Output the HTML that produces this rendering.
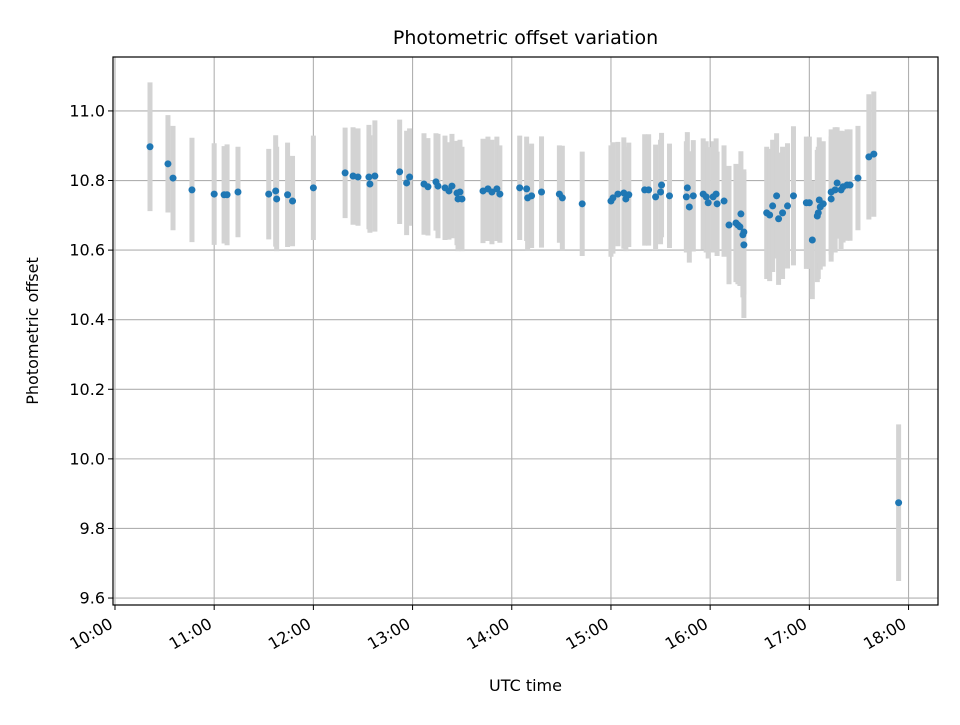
<!DOCTYPE html>
<html><head><meta charset="utf-8"><style>
body{margin:0;background:#fff;}
svg text{font-family:"DejaVu Sans","Liberation Sans",sans-serif;fill:#000;}
</style></head><body>
<svg id="chart" width="960" height="720" viewBox="0 0 960 720" xmlns="http://www.w3.org/2000/svg">
<rect width="960" height="720" fill="#fff"/>
<g id="grid"></g><g id="errs"></g><g id="pts"></g><g id="axes"></g>
</svg>
<script>
const times=[10.353,10.534,10.585,10.776,11.0,11.10,11.13,11.24,11.55,11.62,11.63,11.74,11.79,12.0,12.32,12.40,12.45,12.56,12.57,12.62,12.87,12.94,12.97,13.115,13.155,13.236,13.256,13.327,13.367,13.397,13.448,13.478,13.458,13.498,13.71,13.76,13.80,13.85,13.88,14.08,14.15,14.16,14.20,14.30,14.48,14.51,14.71,15.0,15.02,15.07,15.13,15.15,15.18,15.34,15.38,15.45,15.50,15.51,15.59,15.77,15.76,15.79,15.83,15.93,15.96,15.98,16.03,16.06,16.07,16.14,16.19,16.26,16.28,16.31,16.30,16.33,16.34,16.34,16.57,16.60,16.63,16.67,16.69,16.73,16.78,16.84,16.97,17.00,17.03,17.08,17.09,17.11,17.10,17.14,17.22,17.22,17.26,17.28,17.32,17.34,17.38,17.41,17.49,17.60,17.65,17.90];
const offsets=[10.897,10.848,10.807,10.773,10.761,10.759,10.759,10.767,10.761,10.770,10.747,10.759,10.741,10.779,10.822,10.813,10.810,10.810,10.790,10.813,10.825,10.793,10.810,10.790,10.782,10.796,10.784,10.779,10.770,10.784,10.764,10.767,10.747,10.747,10.770,10.776,10.767,10.776,10.761,10.779,10.776,10.750,10.756,10.767,10.761,10.750,10.733,10.741,10.750,10.761,10.764,10.747,10.759,10.773,10.773,10.753,10.767,10.787,10.756,10.779,10.753,10.724,10.756,10.761,10.753,10.736,10.753,10.761,10.733,10.741,10.672,10.678,10.672,10.704,10.667,10.644,10.652,10.615,10.707,10.701,10.727,10.756,10.690,10.707,10.727,10.756,10.736,10.736,10.629,10.698,10.707,10.724,10.744,10.733,10.747,10.767,10.773,10.793,10.773,10.782,10.787,10.787,10.807,10.868,10.876,9.874];
const errors=[0.185,0.14,0.15,0.15,0.146,0.14,0.145,0.13,0.13,0.16,0.15,0.15,0.13,0.15,0.13,0.14,0.14,0.15,0.14,0.16,0.15,0.15,0.14,0.146,0.14,0.14,0.15,0.15,0.14,0.15,0.15,0.15,0.15,0.15,0.15,0.15,0.15,0.15,0.14,0.15,0.15,0.15,0.15,0.16,0.14,0.15,0.15,0.16,0.16,0.15,0.16,0.15,0.15,0.16,0.16,0.15,0.15,0.15,0.15,0.16,0.16,0.16,0.16,0.16,0.16,0.16,0.16,0.16,0.15,0.16,0.17,0.17,0.17,0.18,0.17,0.18,0.18,0.21,0.19,0.19,0.19,0.18,0.19,0.19,0.18,0.2,0.19,0.19,0.17,0.19,0.19,0.18,0.18,0.18,0.18,0.18,0.18,0.16,0.17,0.16,0.16,0.16,0.15,0.18,0.18,0.225];
const xTicks=[10,11,12,13,14,15,16,17,18];
const xTickLabels=["10:00","11:00","12:00","13:00","14:00","15:00","16:00","17:00","18:00"];
const yTicks=[9.6,9.8,10.0,10.2,10.4,10.6,10.8,11.0];
const yTickLabels=["9.6","9.8","10.0","10.2","10.4","10.6","10.8","11.0"];

const L=113,R=938,T=57,B=605;
const x0=9.98,x1=18.297,y0=9.580,y1=11.155;
const X=h=>L+(h-x0)/(x1-x0)*(R-L);
const Y=v=>B-(v-y0)/(y1-y0)*(B-T);
const NS="http://www.w3.org/2000/svg";
function mk(tag,attrs,parent){const e=document.createElementNS(NS,tag);for(const k in attrs)e.setAttribute(k,attrs[k]);parent.appendChild(e);return e;}
const grid=document.getElementById('grid'),errs=document.getElementById('errs'),pts=document.getElementById('pts'),axes=document.getElementById('axes');

xTicks.forEach((t,i)=>{const x=X(t);
 const g=mk('line',{x1:x,x2:x,y1:T,y2:B,stroke:'#b0b0b0','stroke-width':1.1},grid);
 
 mk('line',{x1:x,x2:x,y1:B,y2:B+5,stroke:'#000','stroke-width':1},axes);
 const ax=x-1,ay=B+22;
 const tx=mk('text',{x:ax,y:ay,'font-size':16,'text-anchor':'end',transform:`rotate(-30 ${ax} ${ay})`},axes);
 tx.textContent=xTickLabels[i];
 
});
yTicks.forEach((t,i)=>{const y=Y(t);
 const g=mk('line',{x1:L,x2:R,y1:y,y2:y,stroke:'#b0b0b0','stroke-width':1.1},grid);
 
 mk('line',{x1:L-5,x2:L,y1:y,y2:y,stroke:'#000','stroke-width':1},axes);
 const tx=mk('text',{x:L-8,y:y+5.5,'font-size':16,'text-anchor':'end'},axes);
 tx.textContent=yTickLabels[i];
 
});
times.forEach((t,i)=>{
 const e=mk('line',{x1:X(t),x2:X(t),y1:Y(offsets[i]+errors[i]),y2:Y(offsets[i]-errors[i]),stroke:'#d3d3d3','stroke-width':5},errs);
 
 const c=mk('circle',{cx:X(t),cy:Y(offsets[i]),r:3.5,fill:'#1f77b4'},pts);
 
});
const fr=mk('rect',{x:L,y:T,width:R-L,height:B-T,fill:'none',stroke:'#000','stroke-width':1.2},axes);

const ti=mk('text',{x:(L+R)/2,y:44,'font-size':19,'text-anchor':'middle'},axes);ti.textContent='Photometric offset variation';

const xl=mk('text',{x:(L+R)/2,y:691,'font-size':16,'text-anchor':'middle'},axes);xl.textContent='UTC time';

const yl=mk('text',{x:38,y:(T+B)/2,'font-size':16,'text-anchor':'middle',transform:`rotate(-90 38 ${(T+B)/2})`},axes);yl.textContent='Photometric offset';

</script>
</body></html>
